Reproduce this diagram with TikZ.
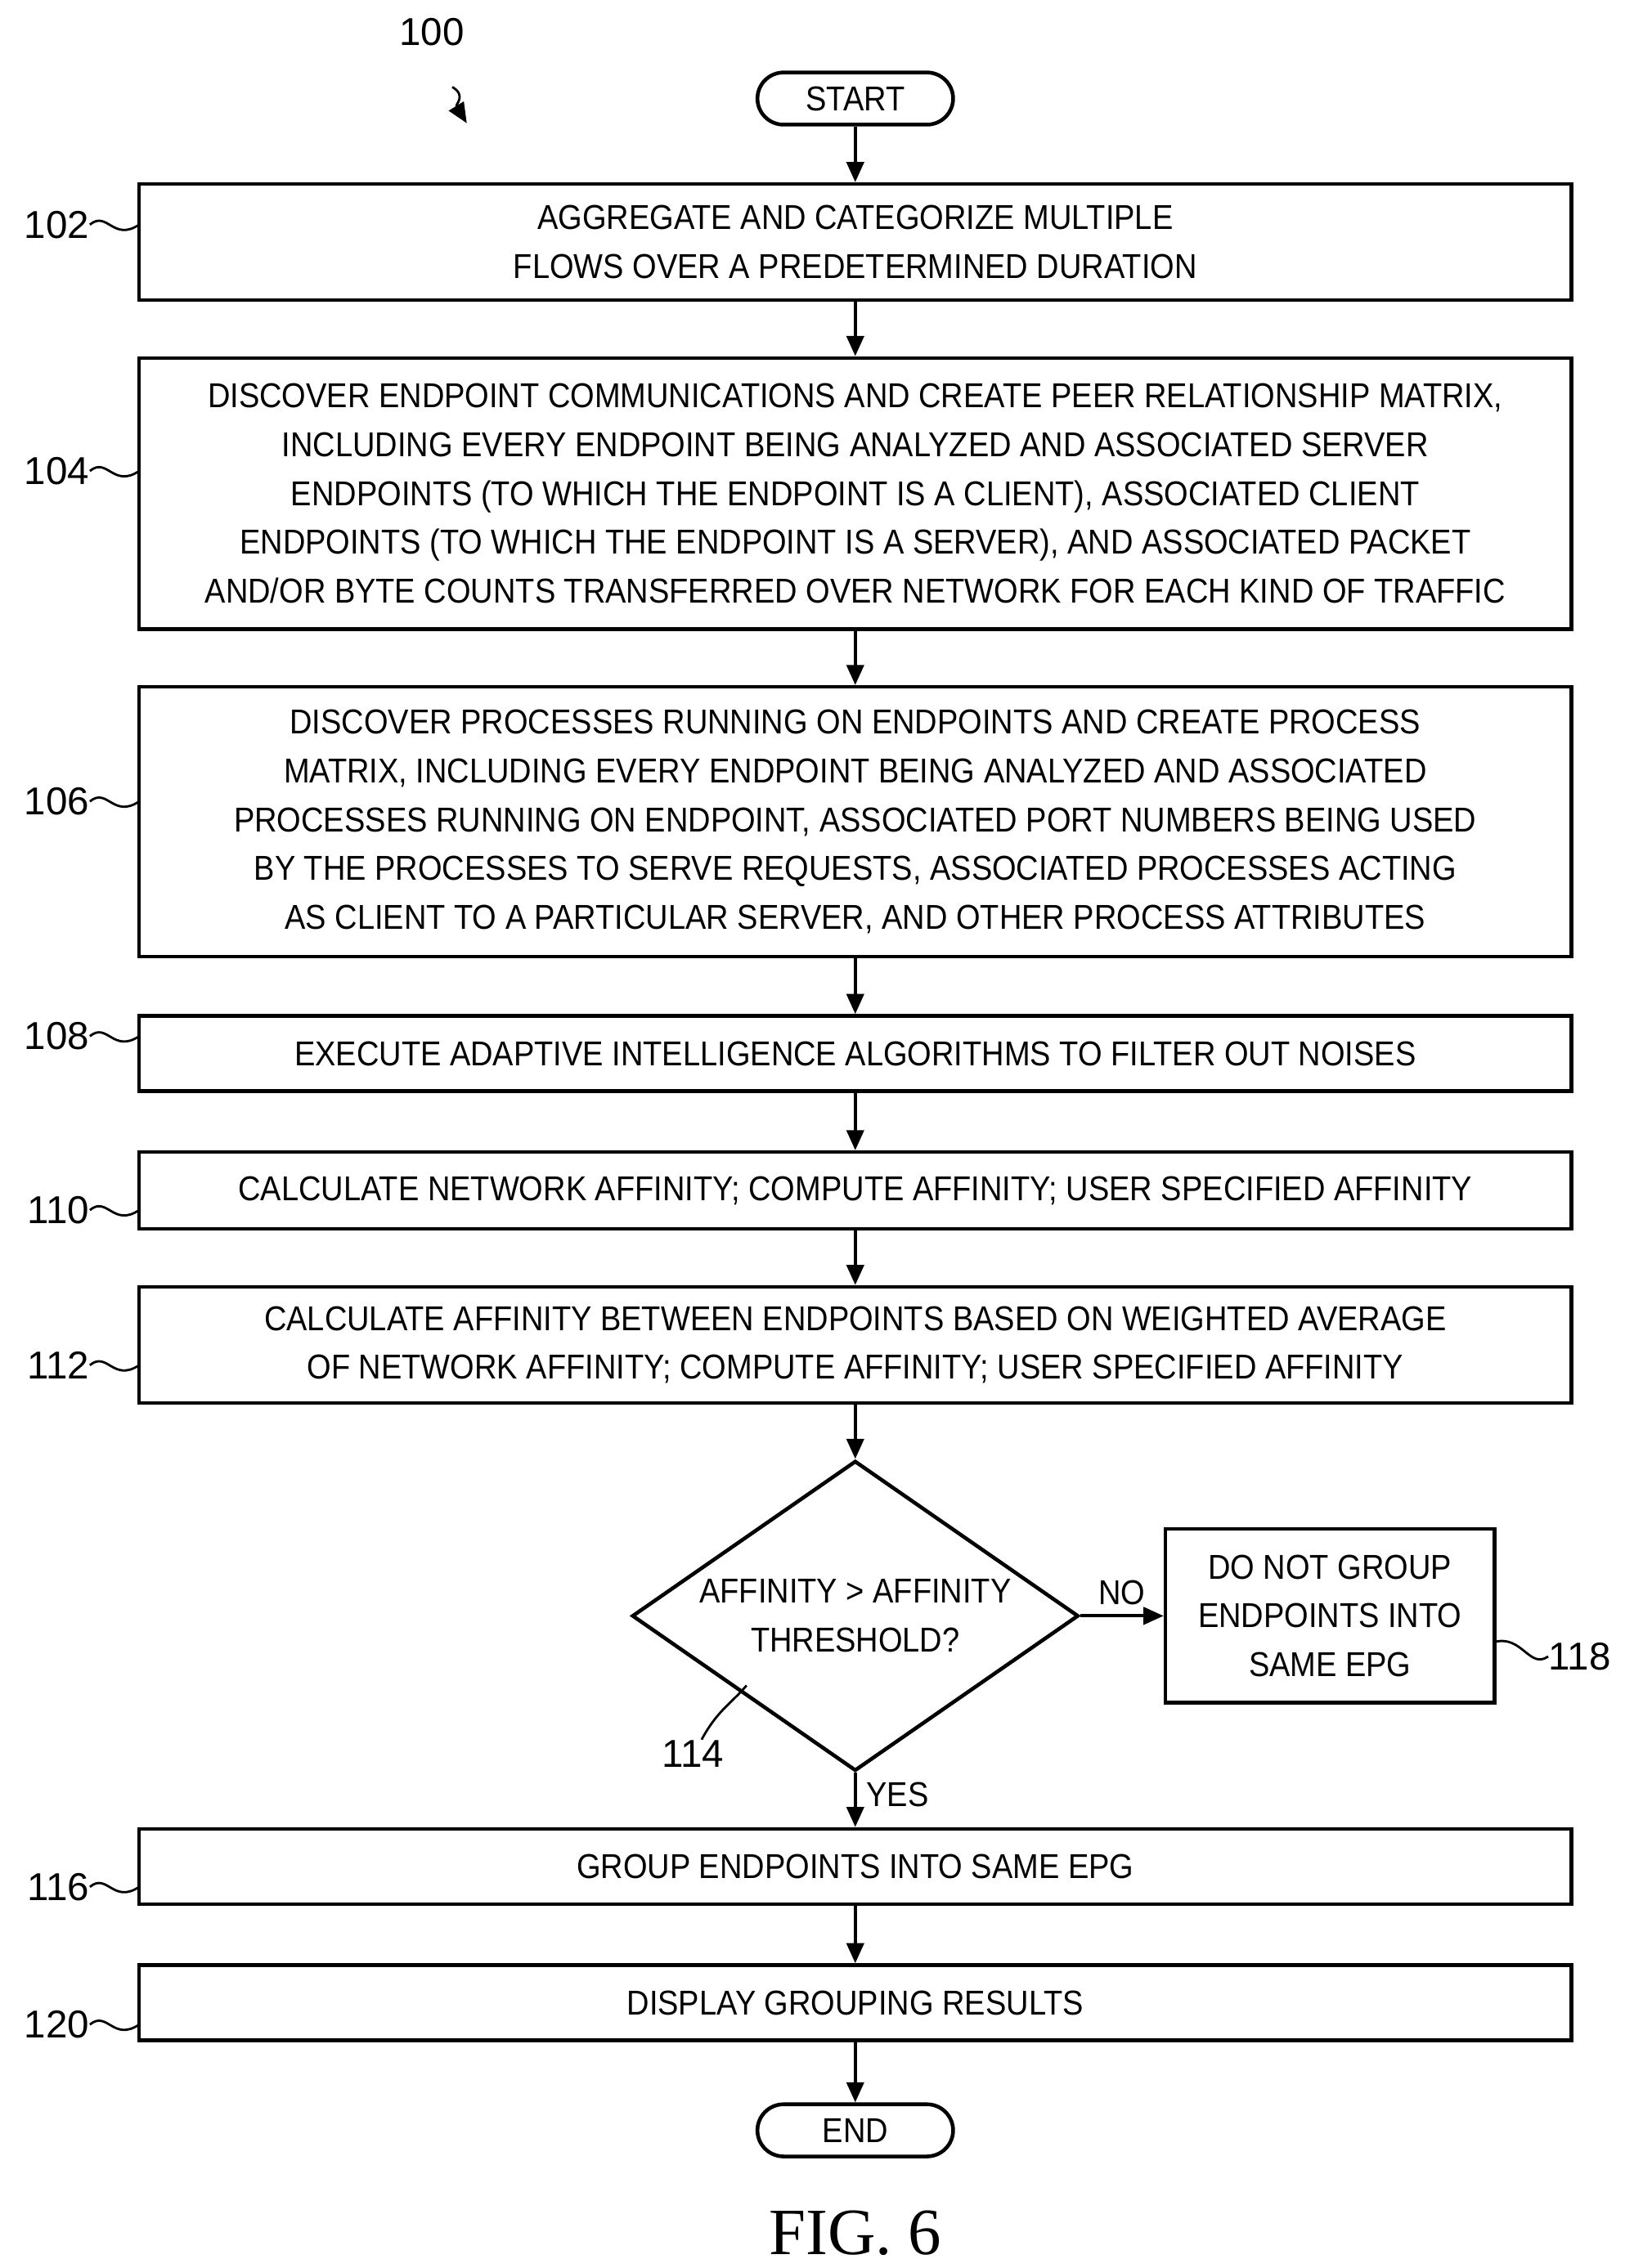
\documentclass[tikz,border=0pt]{standalone}
\usepackage{fontspec}
\setmainfont{Liberation Sans}[FakeStretch=0.9]
\newfontfamily\numfont{Liberation Sans}
\newfontfamily\figfont{Liberation Serif}
\usetikzlibrary{shapes.geometric,arrows.meta}
\begin{document}
\begin{tikzpicture}[x=0.0177cm,y=-0.0177cm,
  box/.style={draw,line width=1.3pt,minimum width=988*0.0177cm,align=center,inner sep=0pt,font=\fontsize{12}{17}\selectfont},
  term/.style={draw,line width=1.3pt,rounded corners=0.32cm,minimum width=135*0.0177cm,minimum height=36*0.0177cm,font=\fontsize{12}{14}\selectfont},
  lab/.style={font=\numfont\fontsize{13.5}{16}\selectfont,inner sep=0pt},
  arr/.style={-{Triangle[length=7pt,width=6pt]},line width=1.1pt},
  sq/.style={line width=0.8pt}]
\useasboundingbox (0,0) rectangle (1127,1565);
\node[term] (start) at (590,68) {START};
\node[box,minimum height=80*0.0177cm] (b102) at (590,167) {AGGREGATE AND CATEGORIZE MULTIPLE\\FLOWS OVER A PREDETERMINED DURATION};
\node[box,minimum height=187*0.0177cm] (b104) at (590,340.5) {DISCOVER ENDPOINT COMMUNICATIONS AND CREATE PEER RELATIONSHIP MATRIX,\\INCLUDING EVERY ENDPOINT BEING ANALYZED AND ASSOCIATED SERVER\\ENDPOINTS (TO WHICH THE ENDPOINT IS A CLIENT), ASSOCIATED CLIENT\\ENDPOINTS (TO WHICH THE ENDPOINT IS A SERVER), AND ASSOCIATED PACKET\\AND/OR BYTE COUNTS TRANSFERRED OVER NETWORK FOR EACH KIND OF TRAFFIC};
\node[box,minimum height=186*0.0177cm] (b106) at (590,567) {DISCOVER PROCESSES RUNNING ON ENDPOINTS AND CREATE PROCESS\\MATRIX, INCLUDING EVERY ENDPOINT BEING ANALYZED AND ASSOCIATED\\PROCESSES RUNNING ON ENDPOINT, ASSOCIATED PORT NUMBERS BEING USED\\BY THE PROCESSES TO SERVE REQUESTS, ASSOCIATED PROCESSES ACTING\\AS CLIENT TO A PARTICULAR SERVER, AND OTHER PROCESS ATTRIBUTES};
\node[box,minimum height=52*0.0177cm] (b108) at (590,727) {EXECUTE ADAPTIVE INTELLIGENCE ALGORITHMS TO FILTER OUT NOISES};
\node[box,minimum height=53*0.0177cm] (b110) at (590,821.5) {CALCULATE NETWORK AFFINITY; COMPUTE AFFINITY; USER SPECIFIED AFFINITY};
\node[box,minimum height=80*0.0177cm] (b112) at (590,928) {CALCULATE AFFINITY BETWEEN ENDPOINTS BASED ON WEIGHTED AVERAGE\\OF NETWORK AFFINITY; COMPUTE AFFINITY; USER SPECIFIED AFFINITY};
\node[draw,diamond,line width=1.3pt,minimum width=308*0.0177cm,minimum height=214*0.0177cm,inner sep=0pt,aspect=1.44,align=center,font=\fontsize{12}{17}\selectfont] (d114) at (590,1115) {AFFINITY > AFFINITY\\THRESHOLD?};
\node[box,minimum width=227*0.0177cm,minimum height=120*0.0177cm] (b118) at (917.5,1115) {DO NOT GROUP\\ENDPOINTS INTO\\SAME EPG};
\node[box,minimum height=52*0.0177cm] (b116) at (590,1288) {GROUP ENDPOINTS INTO SAME EPG};
\node[box,minimum height=52*0.0177cm] (b120) at (590,1382) {DISPLAY GROUPING RESULTS};
\node[term] (end) at (590,1470) {END};
\node[font=\figfont\fontsize{23}{26}\selectfont] (fig) at (590,1541) {FIG. 6};

\draw[arr] (start) -- (b102);
\draw[arr] (b102) -- (b104);
\draw[arr] (b104) -- (b106);
\draw[arr] (b106) -- (b108);
\draw[arr] (b108) -- (b110);
\draw[arr] (b110) -- (b112);
\draw[arr] (b112) -- (d114);
\draw[arr] (d114) -- node[above,font=\fontsize{12}{14}\selectfont]{NO} (b118);
\draw[arr] (d114) -- node[right,pos=0.4,font=\fontsize{12}{14}\selectfont]{YES} (b116);
\draw[arr] (b116) -- (b120);
\draw[arr] (b120) -- (end);

\node[lab] (l100) at (298,22) {100};
\coordinate (a100) at (322,85);
\draw[arr,line width=0.8pt] (312,60) .. controls (322,66) and (314,72) .. (a100);
\foreach \n/\y in {102/155,104/325,106/553,108/715,110/835,112/942,116/1302,120/1397}{
  \node[lab,anchor=east] (l\n) at (62,\y) {\n};
  \draw[sq] (l\n.east) .. controls ++(12,-10) and (78,{\y+12}) .. (96,\y);
}
\node[lab,anchor=west] (l118) at (1068,1143) {118};
\draw[sq] (l118.west) .. controls (1055,1152) and (1050,1128) .. (1031,1133);
\node[lab] (l114) at (478,1210) {114};
\draw[sq] (l114.north) ++(6,0) .. controls (495,1180) and (505,1175) .. (515,1163);
\end{tikzpicture}
\end{document}
